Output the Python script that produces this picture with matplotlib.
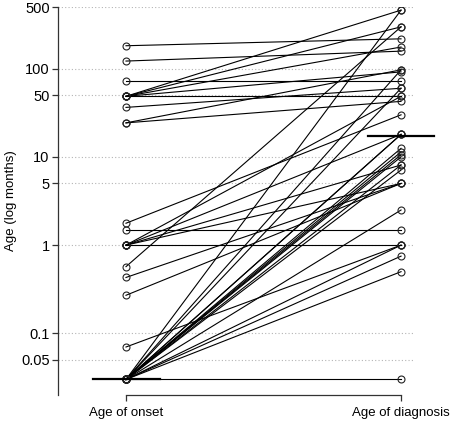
import matplotlib
matplotlib.use("Agg")
import matplotlib.pyplot as plt

plt.rcParams['font.family'] = ['Liberation Sans', 'DejaVu Sans']

# edad de inicio y edad de diagnostico (meses), un par por paciente
onset = [182, 122, 73, 48.6, 48.6, 48.6, 48.6, 48.6, 36.4, 24.3, 24.3,
         1.77, 1.5, 1, 1, 1, 1, 1, 0.57, 0.43, 0.27, 0.07,
         0.03, 0.03, 0.03, 0.03, 0.03, 0.03, 0.03, 0.03,
         0.03, 0.03, 0.03, 0.03, 0.03, 0.03, 0.03, 0.03]
diagnosis = [218, 158, 73, 461, 298, 176, 92, 48.6, 60, 97, 42.6,
             30, 1.5, 18, 8.1, 5.0, 1, 48.6, 298, 5.0, 5.0, 1,
             461, 97, 60, 18, 18, 12.5, 11.4, 10.6,
             10, 8.1, 7.1, 2.5, 1, 0.75, 0.5, 0.03]
median_onset = 0.03
median_diagnosis = 17.2

yticks = [0.05, 0.1, 1, 5, 10, 50, 100, 500]
ytick_labels = ['0.05', '0.1', '1', '5', '10', '50', '100', '500']
xlabels = ['Age of onset', 'Age of diagnosis']

fig = plt.figure(figsize=(4.5, 4.28), dpi=100)
ax = fig.add_axes([0.129, 0.0771, 0.86, 0.9065])
ax.set_yscale('log')
ax.set_ylim(0.02, 500)
ax.set_xlim(-0.247, 1.16)

# lineas de referencia punteadas
ax.hlines(yticks, -0.247, 1.044, colors='#b4b4b4', linestyles=(0, (1, 2)), lw=0.8, zorder=0)

for a, b in zip(onset, diagnosis):
    ax.plot([0, 1], [a, b], color='black', lw=0.8, zorder=2,
            marker='o', ms=5, mfc='none', mec='#222222', mew=0.8)

# medianas
ax.plot([-0.12, 0.124], [median_onset] * 2, color='black', lw=1.6, zorder=3, clip_on=False)
ax.plot([0.88, 1.12], [median_diagnosis] * 2, color='black', lw=1.6, zorder=3, clip_on=False)

ax.set_yticks(yticks)
ax.set_yticklabels(ytick_labels)
ax.yaxis.set_minor_locator(matplotlib.ticker.NullLocator())
ax.set_xticks([0, 1])
ax.set_xticklabels(xlabels)
ax.tick_params(axis='x', labelsize=9.5, color='#333333', width=0.9, length=4.5, pad=4)
ax.tick_params(axis='y', labelsize=10.5, color='#333333', width=0.9, length=4, pad=2)
ax.set_ylabel('Age (log months)', fontsize=9.5, labelpad=3)

ax.spines['top'].set_visible(False)
ax.spines['right'].set_visible(False)
ax.spines['bottom'].set_bounds(0, 1)
for s in ['left', 'bottom']:
    ax.spines[s].set_color('#333333')
    ax.spines[s].set_linewidth(0.9)

fig.savefig('out.png', dpi=100)
